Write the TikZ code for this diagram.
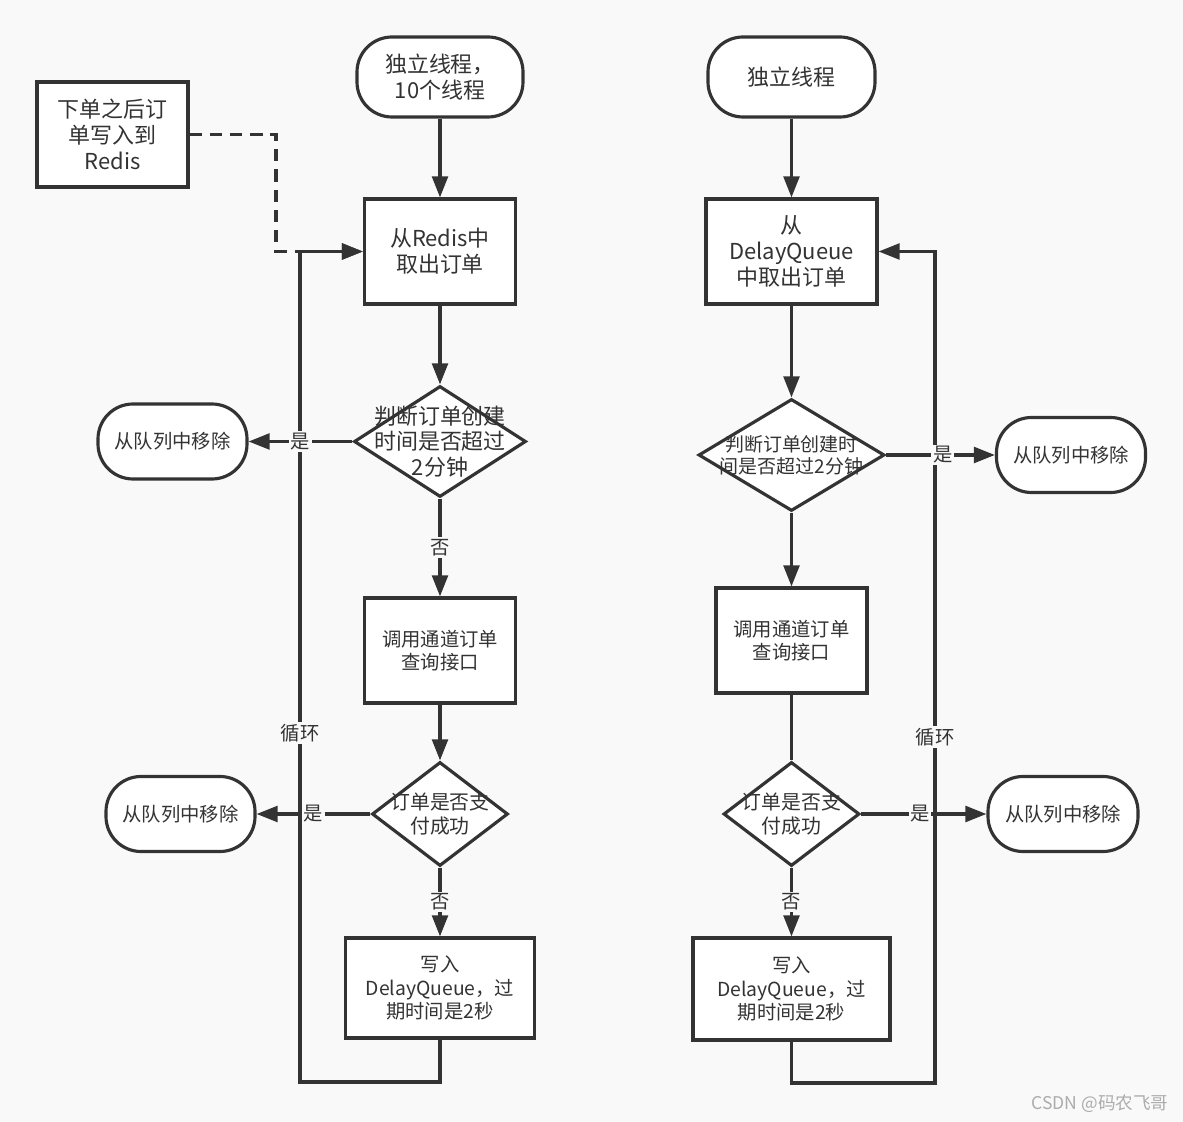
\documentclass[tikz,border=0pt]{standalone}
\usepackage{fontspec}
\setmainfont{Noto Sans CJK SC}
\usetikzlibrary{arrows.meta, shapes.geometric, positioning}
\definecolor{cinzaEscuro}{HTML}{333333}
\definecolor{cinzaFundo}{HTML}{F9F9F9}

\begin{document}
\begin{tikzpicture}[
    every node/.style={font=\fontsize{11}{13.3}\selectfont, align=center, text=cinzaEscuro},
    big/.style={font=\fontsize{12.5}{14.7}\selectfont},
    term/.style={rectangle, rounded corners=0.7cm, draw=cinzaEscuro, line width=1.8pt, fill=white, minimum width=2.98cm, minimum height=1.5cm},
    box/.style={rectangle, draw=cinzaEscuro, line width=1.8pt, fill=white, minimum width=3.02cm, minimum height=2.1cm},
    decision/.style={diamond, draw=cinzaEscuro, line width=1.8pt, fill=white, inner sep=0pt, minimum width=2.72cm, minimum height=2.08cm},
    arrow/.style={-{Triangle[length=12pt, width=9pt]}, line width=1.8pt, draw=cinzaEscuro},
    conn/.style={line width=1.8pt, draw=cinzaEscuro},
    tag/.style={fill=cinzaFundo, inner sep=1pt}
]
    % fundo
    \fill[cinzaFundo] (0,0) rectangle (23.66,-22.44);
    \useasboundingbox (0,0) rectangle (23.66,-22.44);

    % coluna esquerda
    \node[term, big, minimum width=3.32cm, minimum height=1.6cm] (start) at (8.8,-1.54) {独立线程，\\10个线程};
    \node[box, big] (redis) at (2.25,-2.69) {下单之后订\\单写入到\\Redis};
    \node[box, big, below of=start, node distance=3.49cm] (fetch) {从Redis中\\取出订单};
    \node[decision, minimum width=3.44cm, minimum height=2.22cm, below of=fetch, node distance=3.8cm,
          label={[big]center:判断订单创建\\时间是否超过\\2分钟}] (check) {};
    \node[term, left of=check, node distance=5.35cm] (remove) {从队列中移除};
    \node[box, below of=check, node distance=4.18cm] (query) {调用通道订单\\查询接口};
    \node[decision, below of=query, node distance=3.27cm,
          label={[font=\fontsize{11.3}{13.5}\selectfont]center:订单是否支\\付成功}] (pay) {};
    \node[term, left of=pay, node distance=5.19cm] (removepay) {从队列中移除};
    \node[box, minimum width=3.78cm, minimum height=2cm, below of=pay, node distance=3.48cm] (write) {写入\\DelayQueue，过\\期时间是2秒};

    % coluna direita
    \node[term, big, minimum width=3.34cm, minimum height=1.6cm] (start2) at (15.83,-1.54) {独立线程};
    \node[box, big, minimum width=3.42cm, below of=start2, node distance=3.49cm] (fetch2) {从\\DelayQueue\\中取出订单};
    \node[decision, minimum width=3.72cm, minimum height=2.24cm, below of=fetch2, node distance=4.07cm,
          label={[font=\fontsize{10.8}{12.6}\selectfont]center:判断订单创建时\\间是否超过2分钟}] (check2) {};
    \node[term, right of=check2, node distance=5.59cm] (remove2) {从队列中移除};
    \node[box, below of=check2, node distance=3.71cm] (query2) {调用通道订单\\查询接口};
    \node[decision, below of=query2, node distance=3.47cm,
          label={[font=\fontsize{11.3}{13.5}\selectfont]center:订单是否支\\付成功}] (pay2) {};
    \node[term, minimum width=3cm, right of=pay2, node distance=5.43cm] (removepay2) {从队列中移除};
    \node[box, minimum width=3.94cm, minimum height=2.04cm, below of=pay2, node distance=3.5cm] (write2) {写入\\DelayQueue，过\\期时间是2秒};

    \node[text=gray!65, font=\fontsize{10}{12}\selectfont] (mark) at (22.0,-22.08) {CSDN @码农飞哥};

    % pontos das voltas
    \coordinate (loopL) at (6.0,-21.64);
    \coordinate (loopR) at (18.7,-21.66);
    \coordinate (dashX) at (5.52,-2.69);

    % voltas (antes, para as etiquetas ficarem por cima)
    \draw[arrow, dash pattern=on 7pt off 4.5pt] (redis.east) -- (dashX) |- (fetch.west);
    \draw[arrow] (write.south) |- (loopL) -- node[tag, pos=0.42] {循环} (loopL |- fetch.west) -- (fetch.west);
    \draw[arrow] (write2.south) |- (loopR) -- node[tag, pos=0.416] {循环} (loopR |- fetch2.east) -- (fetch2.east);

    % fluxo esquerdo
    \draw[arrow] (start) -- (fetch);
    \draw[arrow] (fetch) -- (check);
    \draw[arrow] (check.west) -- node[tag] {是} (remove.east);
    \draw[arrow] (check.south) -- node[tag] {否} (query.north);
    \draw[arrow] (query) -- (pay);
    \draw[arrow] (pay.west) -- node[tag] {是} (removepay.east);
    \draw[arrow] (pay.south) -- node[tag] {否} (write.north);

    % fluxo direito
    \draw[arrow] (start2) -- (fetch2);
    \draw[arrow] (fetch2) -- (check2);
    \draw[arrow] (check2.east) -- node[tag, pos=0.52] {是} (remove2.west);
    \draw[arrow] (check2.south) -- (query2.north);
    \draw[conn] (query2) -- (pay2);
    \draw[arrow] (pay2.east) -- node[tag, pos=0.47] {是} (removepay2.west);
    \draw[arrow] (pay2.south) -- node[tag] {否} (write2.north);
\end{tikzpicture}
\end{document}
